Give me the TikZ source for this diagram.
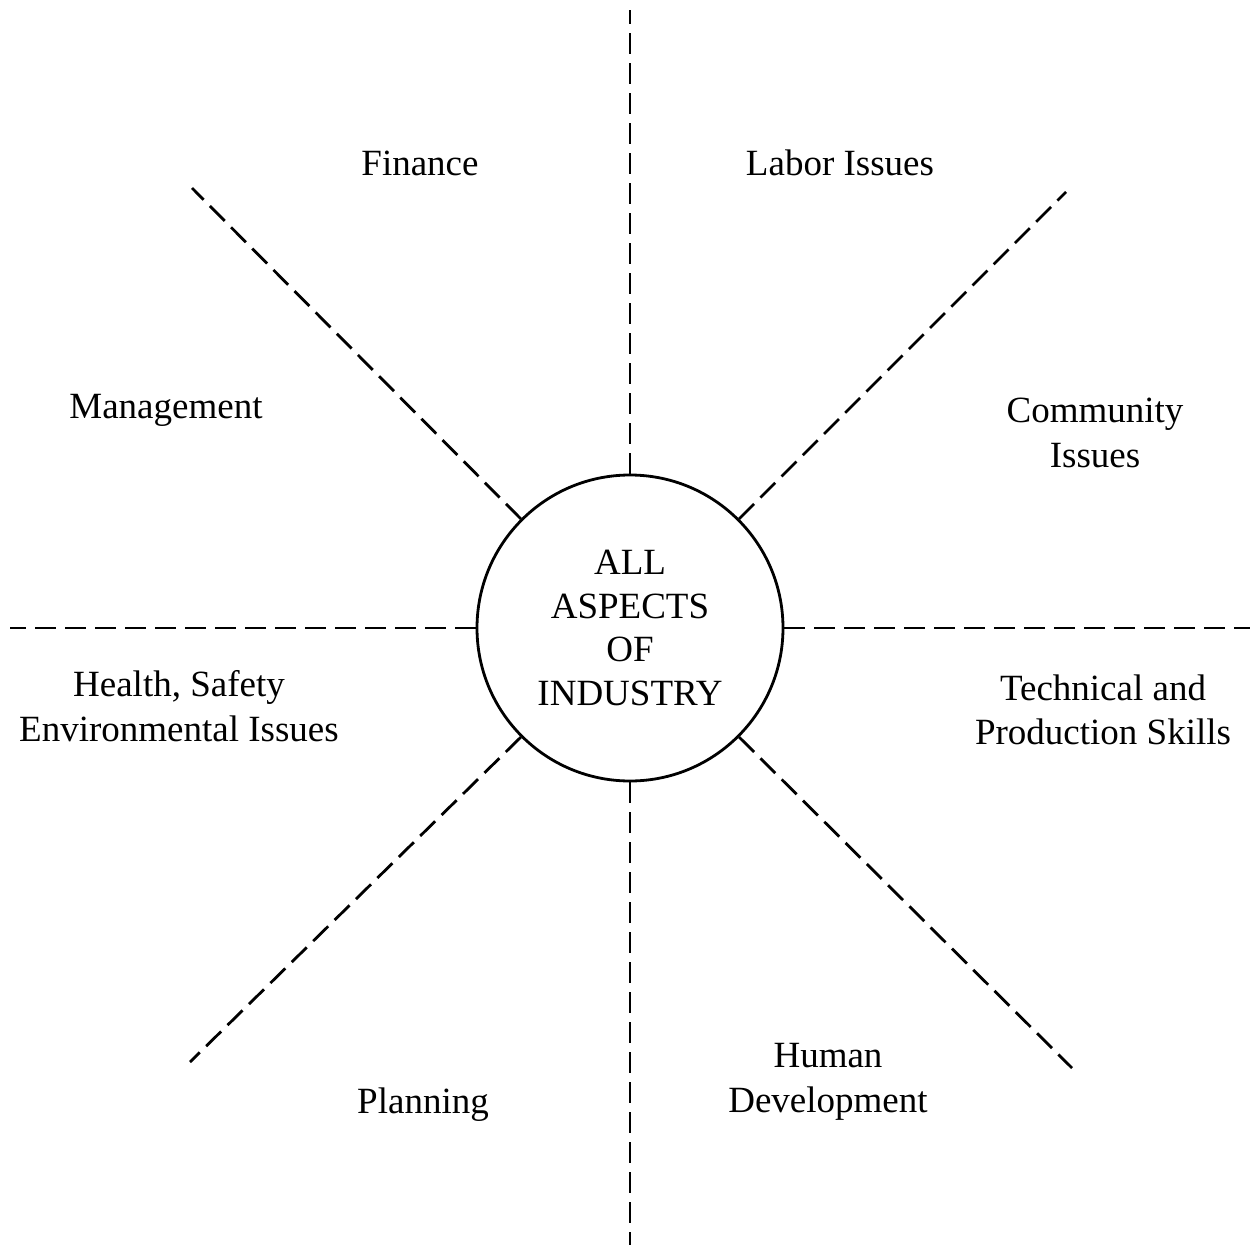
\documentclass[tikz,border=0pt]{standalone}
\usepackage{fontspec}
\setmainfont{Liberation Serif}
\begin{document}
\begin{tikzpicture}[x=1pt,y=-1pt,
  spoke/.style={line width=2.8pt,dash pattern=on 21pt off 9pt},
  label/.style={align=center,inner sep=0pt,font=\fontsize{37}{44.5}\selectfont},
  hubstyle/.style={circle,draw,line width=2.8pt,minimum size=306pt,inner sep=0pt,
    align=center,font=\fontsize{37}{43.5}\selectfont}]
\useasboundingbox (0,0) rectangle (1251,1247);
\node[hubstyle] (hub) at (630,628) {ALL\\ASPECTS\\OF\\INDUSTRY};
% free ends of the eight spokes
\coordinate (n) at (hub.north |- 0,10);
\coordinate (s) at (hub.south |- 0,1245);
\coordinate (w) at (hub.west -| 10,0);
\coordinate (e) at (hub.east -| 1250,0);
\coordinate (nw) at (192,188);
\coordinate (ne) at (1066,192);
\coordinate (sw) at (190,1062);
\coordinate (se) at (1072,1068);
\draw[spoke] (hub.north) -- (n);
\draw[spoke] (hub.south) -- (s);
\draw[spoke] (hub.west) -- (w);
\draw[spoke] (hub.east) -- (e);
\draw[spoke] (hub.135) -- (nw);
\draw[spoke] (hub.45) -- (ne);
\draw[spoke] (hub.225) -- (sw);
\draw[spoke] (hub.315) -- (se);
% sector labels
\node[label] (fin) at (420,163) {Finance};
\node[label] (lab) at (840,163) {Labor Issues};
\node[label] (man) at (166,410) {Management};
\node[label] (com) at (1095,433) {Community\\Issues};
\node[label] (hse) at (179,706) {Health, Safety\\Environmental Issues};
\node[label] (tec) at (1103,710) {Technical and\\Production Skills};
\node[label] (pla) at (423,1105) {Planning};
\node[label] (hum) at (828,1082) {Human\\Development};
\end{tikzpicture}
\end{document}
